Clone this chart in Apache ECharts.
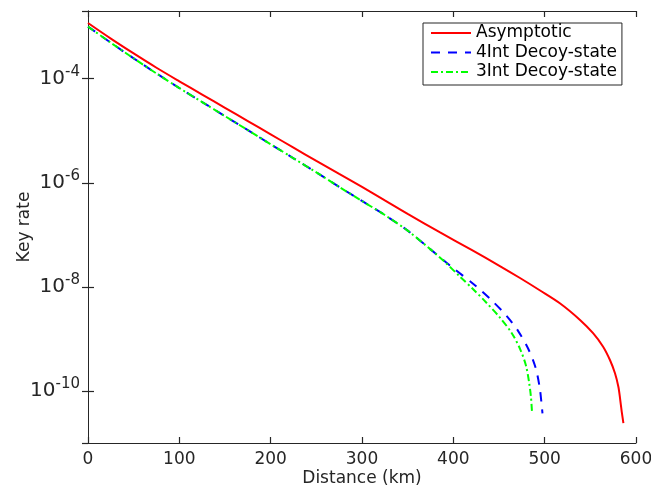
<!DOCTYPE html>
<html>
<head>
<meta charset="utf-8">
<script src="https://cdn.jsdelivr.net/npm/echarts@6/dist/echarts.min.js"></script>
<style>
html,body{margin:0;padding:0;background:#fff;}
#chart{width:651px;height:487px;}
</style>
</head>
<body>
<div id="chart"></div>
<script>
// Distances (km) and log10(key rate)
const asymDist = [0, 25, 50, 75, 100, 125, 150, 175, 200, 225, 250, 275, 300, 325, 350, 385, 420, 450, 473, 495, 517, 539, 553, 564, 571.6, 577, 580.7, 582.6, 584.4, 586.2];
const asymLog10 = [-2.93, -3.23, -3.515, -3.79, -4.05, -4.305, -4.56, -4.815, -5.07, -5.325, -5.58, -5.83, -6.08, -6.34, -6.60, -6.95, -7.29, -7.59, -7.83, -8.07, -8.32, -8.64, -8.89, -9.15, -9.41, -9.66, -9.92, -10.15, -10.40, -10.62];

const int4Dist = [0, 25, 50, 75, 100, 125, 150, 175, 200, 225, 250, 275, 300, 325, 350, 375, 390, 400, 425, 442, 458, 471, 482, 490, 494.5, 496.6, 497.6];
const int4Log10 = [-3.00, -3.31, -3.61, -3.90, -4.18, -4.45, -4.72, -4.99, -5.26, -5.53, -5.80, -6.08, -6.35, -6.62, -6.92, -7.28, -7.50, -7.64, -7.99, -8.26, -8.55, -8.85, -9.19, -9.55, -9.93, -10.25, -10.43];

const int3Dist = [0, 25, 50, 75, 100, 125, 150, 175, 200, 225, 250, 275, 300, 325, 350, 375, 390, 407, 422, 436, 451, 464, 473, 479.5, 483, 485, 486.2];
const int3Log10 = [-3.00, -3.31, -3.61, -3.90, -4.18, -4.45, -4.72, -4.99, -5.26, -5.53, -5.80, -6.08, -6.35, -6.62, -6.92, -7.28, -7.51, -7.80, -8.05, -8.30, -8.59, -8.89, -9.19, -9.51, -9.84, -10.12, -10.42];

const seriesNames = ['Asymptotic', '4Int Decoy-state', '3Int Decoy-state'];
const xTicks = [0, 100, 200, 300, 400, 500, 600];
const yTickExponents = [-4, -6, -8, -10];

const FONT = 'DejaVu Sans';
const TXT = '#262626';

function pairs(xs, ys) { return xs.map((x, i) => [x, ys[i]]); }

const chart = echarts.init(document.getElementById('chart'), null, {renderer: 'canvas'});

function axisLineStyle() { return {show: true, lineStyle: {color: TXT, width: 1}}; }
function tickStyle() { return {show: true, inside: true, length: 6, lineStyle: {color: TXT, width: 1.2}}; }

chart.setOption({
  animation: false,
  backgroundColor: '#fff',
  grid: {left: 88, right: 15, top: 11, bottom: 44, containLabel: false, outerBoundsMode: 'none'},
  legend: {
    orient: 'vertical',
    left: 423, top: 23,
    data: seriesNames,
    itemWidth: 40, itemHeight: 10, itemGap: 1.5,
    padding: [1, 5, 4, 7],
    borderColor: TXT, borderWidth: 1, backgroundColor: '#fff',
    itemStyle: {opacity: 0},
    textStyle: {fontFamily: FONT, fontSize: 17, color: '#000', lineHeight: 18}
  },
  xAxis: [{
    type: 'value', min: 0, max: 600, interval: 100,
    position: 'bottom',
    name: 'Distance (km)', nameLocation: 'middle', nameGap: 27, nameMoveOverlap: false,
    nameTextStyle: {fontFamily: FONT, fontSize: 17, color: TXT},
    axisLine: axisLineStyle(), axisTick: tickStyle(),
    axisLabel: {fontFamily: FONT, fontSize: 17, color: TXT, margin: 8,
      formatter: v => xTicks.includes(v) ? String(v) : ''},
    splitLine: {show: false}
  }, {
    type: 'value', min: 0, max: 600, interval: 100,
    position: 'top',
    axisLine: axisLineStyle(), axisTick: tickStyle(),
    axisLabel: {show: false}, splitLine: {show: false}
  }],
  yAxis: [{
    type: 'value', min: -11, max: -2.7,
    position: 'left',
    name: 'Key rate', nameLocation: 'middle', nameGap: 55, nameMoveOverlap: false,
    nameTextStyle: {fontFamily: FONT, fontSize: 17, color: TXT},
    axisLine: axisLineStyle(), axisTick: tickStyle(),
    axisLabel: {
      margin: 8, color: TXT, showMinLabel: false, showMaxLabel: false,
      formatter: v => yTickExponents.includes(v) ? '{b|10}{s|' + v + '}' : '',
      rich: {
        b: {fontFamily: FONT, fontSize: 20, color: TXT},
        s: {fontFamily: FONT, fontSize: 15, color: TXT, padding: [0, 0, 14, 0]}
      }
    },
    splitLine: {show: false}
  }, {
    type: 'value', min: -11, max: -2.7,
    position: 'right',
    axisLine: axisLineStyle(), axisTick: tickStyle(),
    axisLabel: {show: false}, splitLine: {show: false}
  }],
  series: [{
    name: seriesNames[0], type: 'line', showSymbol: false, symbol: 'none',
    data: pairs(asymDist, asymLog10), smooth: 0.3,
    lineStyle: {color: '#ff0000', width: 2}, itemStyle: {color: '#ff0000'}, z: 3
  }, {
    name: seriesNames[1], type: 'line', showSymbol: false, symbol: 'none',
    data: pairs(int4Dist, int4Log10), smooth: 0.3,
    lineStyle: {color: '#0000ff', width: 2, type: [9, 8]}, itemStyle: {color: '#0000ff'}, z: 2
  }, {
    name: seriesNames[2], type: 'line', showSymbol: false, symbol: 'none',
    data: pairs(int3Dist, int3Log10), smooth: 0.3,
    lineStyle: {color: '#00ff00', width: 2, type: [7, 3, 2, 3]}, itemStyle: {color: '#00ff00'}, z: 4
  }]
});
</script>
</body>
</html>
